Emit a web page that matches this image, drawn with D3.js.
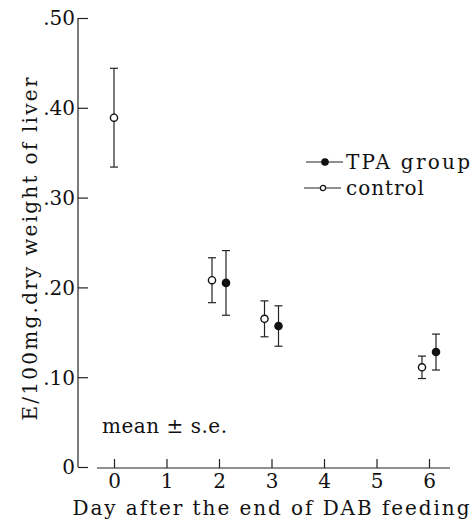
<!DOCTYPE html>
<html>
<head>
<meta charset="utf-8">
<script src="https://cdn.jsdelivr.net/npm/d3@7"></script>
<style>
	body { margin: 0; background: #fff; }
	.axis line { stroke: #222; stroke-width: 1.2; }
	svg text { font-family: "DejaVu Serif", serif !important; }
</style>
</head>
<body>
<svg id="chart" width="475" height="521"></svg>
<script>
// values
const yTicks = [0, 0.1, 0.2, 0.3, 0.4, 0.5];
const xTicks = [0, 1, 2, 3, 4, 5, 6];

const controlDays = [0, 2, 3, 6];
const controlMean = [0.389, 0.208, 0.165, 0.111];
const controlSe = [0.055, 0.025, 0.020, 0.0125];

const tpaDays = [2, 3, 6];
const tpaMean = [0.205, 0.157, 0.128];
const tpaSe = [0.036, 0.0225, 0.020];

const svg = d3.select('#chart');
svg.append('rect').attr('width', 475).attr('height', 521).attr('fill', '#fff');

const y = d3.scaleLinear().domain([0, 0.5]).range([467, 18]);
const x = d3.scaleLinear().domain([0, 6]).range([114, 429]);
const axisX = 78; // where the y axis sits
const dodge = 7; // px shift when both groups share a day

// y axis
let yAxis = d3
	.axisLeft(y)
	.tickValues(yTicks)
	.tickSizeInner(-10)
	.tickSizeOuter(0)
	.tickPadding(3)
	.tickFormat((d) => (d === 0 ? '0' : d3.format('.2f')(d).replace('0.', '.')));
let yG = svg.append('g').attr('class', 'axis').attr('transform', 'translate(' + axisX + ',0)').call(yAxis);
yG.attr('font-size', 20);
yG.select('.domain').remove();
yG.selectAll('text').attr('fill', '#111').attr('dy', '0.34em');
yG.append('line').attr('x1', 0).attr('x2', 0).attr('y1', y(0.5)).attr('y2', y(0));

// x axis
let xAxis = d3.axisBottom(x).tickValues(xTicks).tickFormat(d3.format('d')).tickSizeInner(-9).tickSizeOuter(0).tickPadding(6);
let xG = svg.append('g').attr('class', 'axis').attr('transform', 'translate(0,' + (y(0) + 1) + ')').call(xAxis);
xG.attr('font-size', 20);
xG.select('.domain').remove();
xG.selectAll('text').attr('fill', '#111');
xG.append('line').attr('x1', 97).attr('x2', 450).attr('y1', 0).attr('y2', 0);

// axis titles
svg
	.append('text')
	.attr('x', 271)
	.attr('y', 515)
	.attr('text-anchor', 'middle')
	.attr('font-size', 20)
	.attr('textLength', 397)
	.attr('lengthAdjust', 'spacing')
	.attr('fill', '#111')
	.text('Day after the end of DAB feeding');

svg
	.append('text')
	.attr('transform', 'translate(37,249) rotate(-90)')
	.attr('text-anchor', 'middle')
	.attr('font-size', 20)
	.attr('textLength', 343)
	.attr('lengthAdjust', 'spacing')
	.attr('fill', '#111')
	.text('E/100mg.dry weight of liver');

svg
	.append('text')
	.attr('x', 102)
	.attr('y', 433)
	.attr('font-size', 20)
	.attr('textLength', 125)
	.attr('lengthAdjust', 'spacing')
	.attr('fill', '#111')
	.text('mean \u00b1 s.e.');

// build point records
let controlPts = controlDays.map((d, i) => ({ day: d, mean: controlMean[i], se: controlSe[i], shift: tpaDays.includes(d) ? -dodge : 0 }));
let tpaPts = tpaDays.map((d, i) => ({ day: d, mean: tpaMean[i], se: tpaSe[i], shift: controlDays.includes(d) ? dodge : 0 }));

function drawSeries(pts, filled, cls) {
	let g = svg
		.append('g')
		.attr('class', cls)
		.selectAll('g')
		.data(pts)
		.enter()
		.append('g')
		.attr('transform', (d) => 'translate(' + (x(d.day) + d.shift) + ',0)');
	g
		.append('line')
		.attr('x1', 0)
		.attr('x2', 0)
		.attr('y1', (d) => y(d.mean + d.se))
		.attr('y2', (d) => y(d.mean - d.se))
		.attr('stroke', '#222')
		.attr('stroke-width', 1.2);
	[ (d) => y(d.mean + d.se), (d) => y(d.mean - d.se) ].forEach((fy) => {
		g
			.append('line')
			.attr('x1', -4)
			.attr('x2', 4)
			.attr('y1', fy)
			.attr('y2', fy)
			.attr('stroke', '#222')
			.attr('stroke-width', 1.2);
	});
	g
		.append('circle')
		.attr('cy', (d) => y(d.mean))
		.attr('r', 3.6)
		.attr('fill', filled ? '#111' : '#fff')
		.attr('stroke', '#111')
		.attr('stroke-width', 1.4);
}
drawSeries(controlPts, false, 'control');
drawSeries(tpaPts, true, 'tpa');

// legend
const legendItems = [ { name: 'TPA group', filled: true }, { name: 'control', filled: false } ];
let legendG = svg
	.selectAll('.legend-item')
	.data(legendItems)
	.enter()
	.append('g')
	.attr('class', 'legend-item')
	.attr('transform', (d, i) => 'translate(' + (306 - i * 2) + ',' + (162 + i * 26) + ')');
legendG.append('line').attr('x1', 0).attr('x2', 37).attr('stroke', '#222').attr('stroke-width', 1.2);
legendG
	.append('circle')
	.attr('cx', 19)
	.attr('r', (d) => (d.filled ? 3.2 : 2.6))
	.attr('fill', (d) => (d.filled ? '#111' : '#fff'))
	.attr('stroke', '#111')
	.attr('stroke-width', 1.2);
legendG
	.append('text')
	.attr('x', (d, i) => 40 + i * 2)
	.attr('y', 7)
	.attr('font-size', 20)
	.attr('textLength', (d, i) => (i === 0 ? 124 : 78))
	.attr('lengthAdjust', 'spacing')
	.attr('fill', '#111')
	.text((d) => d.name);
</script>
</body>
</html>
